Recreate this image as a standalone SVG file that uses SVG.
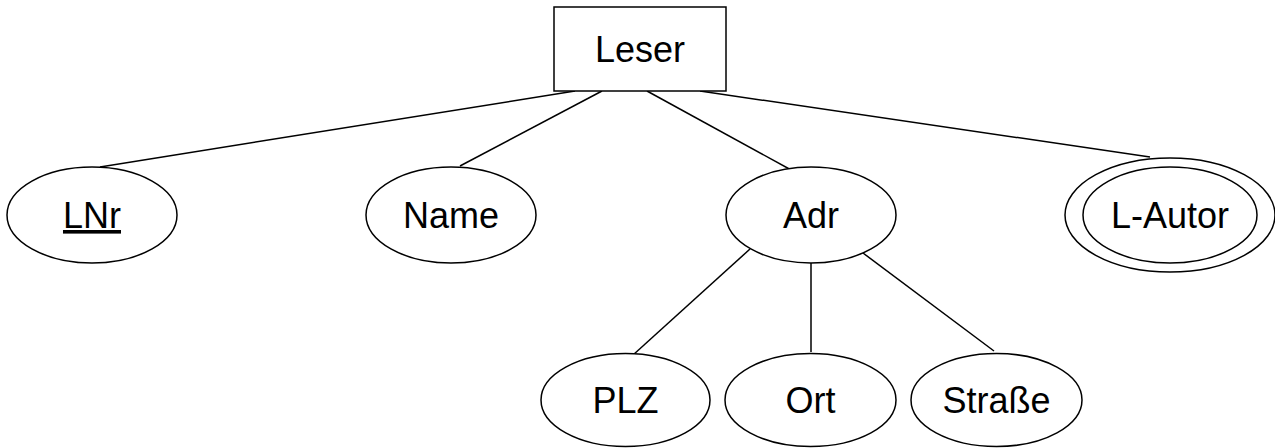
<svg xmlns="http://www.w3.org/2000/svg" width="1275" height="448" viewBox="0 0 1275 448">
<style>
.s{fill:#fff;stroke:#000;stroke-width:1.5}
.t{font-family:"Liberation Sans",Arial,sans-serif;font-size:36px;fill:#000;text-anchor:middle}
.c line{stroke:#000;stroke-width:1.5}
</style>
<rect width="1275" height="448" fill="#fff"/>
<g class="c" id="connectors">
<line x1="575" y1="91" x2="100" y2="167"/>
<line x1="602" y1="91" x2="460" y2="166"/>
<line x1="647" y1="91" x2="793" y2="171"/>
<line x1="700" y1="91" x2="1150" y2="157"/>
<line x1="750" y1="249" x2="633" y2="355"/>
<line x1="811" y1="263" x2="811" y2="352"/>
<line x1="863" y1="253" x2="994" y2="351"/>
</g>
<g id="leser">
<rect class="s" x="554" y="7" width="172" height="84"/>
<text class="t" x="640" y="62">Leser</text>
</g>
<g id="lnr">
<ellipse class="s" cx="92" cy="215" rx="85" ry="48"/>
<text class="t" x="92" y="228" text-decoration="underline">LNr</text>
</g>
<g id="name">
<ellipse class="s" cx="451" cy="215" rx="85" ry="48"/>
<text class="t" x="451" y="228">Name</text>
</g>
<g id="adr">
<ellipse class="s" cx="811" cy="215" rx="85" ry="48"/>
<text class="t" x="811" y="228">Adr</text>
</g>
<g id="l-autor">
<ellipse class="s" cx="1170" cy="215" rx="105" ry="57"/>
<ellipse class="s" cx="1170" cy="215" rx="87" ry="48"/>
<text class="t" x="1170" y="228">L-Autor</text>
</g>
<g id="plz">
<ellipse class="s" cx="625.5" cy="400" rx="84.5" ry="46.5"/>
<text class="t" x="625.5" y="413">PLZ</text>
</g>
<g id="ort">
<ellipse class="s" cx="810.5" cy="400" rx="85.5" ry="46.5"/>
<text class="t" x="810.5" y="413">Ort</text>
</g>
<g id="strasse">
<ellipse class="s" cx="996.5" cy="400" rx="85.5" ry="46.5"/>
<text class="t" x="996.5" y="413">Straße</text>
</g>
</svg>
